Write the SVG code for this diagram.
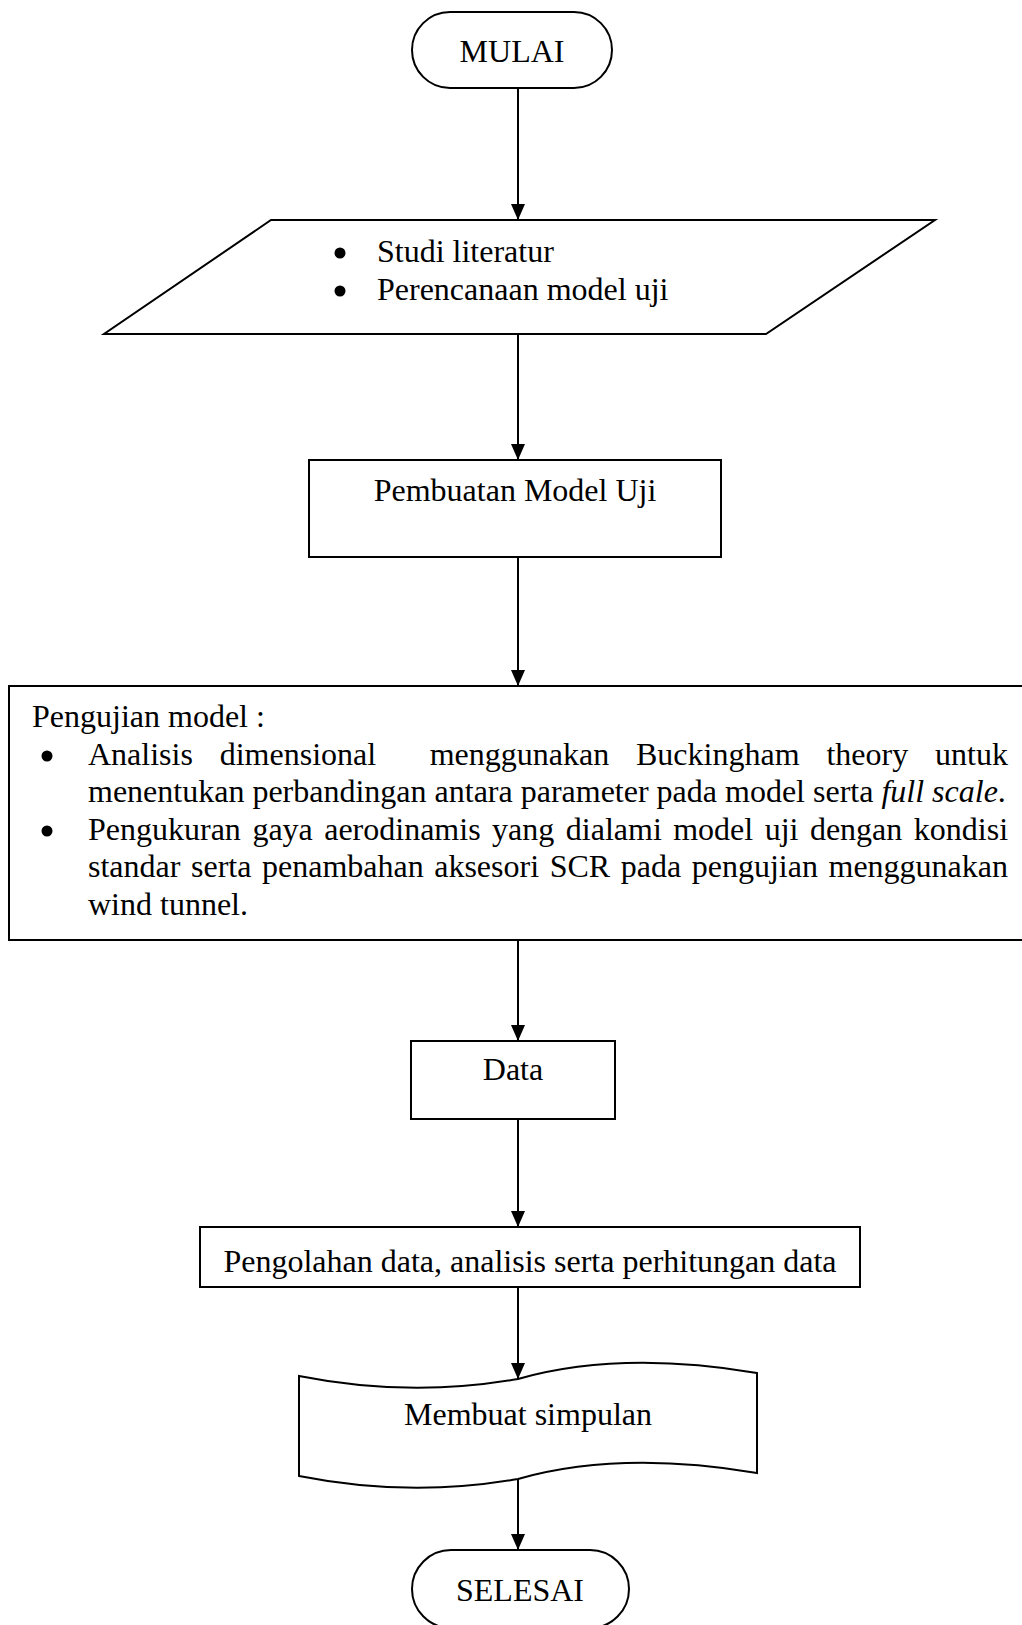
<svg xmlns="http://www.w3.org/2000/svg" width="1022" height="1625" viewBox="0 0 1022 1625">
<style>
.s{fill:#fff;stroke:#000;stroke-width:2}
.t{font-family:"Liberation Serif","Times New Roman",serif;font-size:32px;fill:#000}
.c{text-anchor:middle}
.e{text-anchor:end}
.b{fill:#000}
.l{stroke:#000;stroke-width:2;fill:none}
</style>
<defs>
<marker id="ah" markerUnits="userSpaceOnUse" markerWidth="16" markerHeight="18" refX="8" refY="16" orient="auto-start-reverse" viewBox="0 0 16 18">
<path d="M1,0 L15,0 L8,16 Z" fill="#000" transform="rotate(-90 8 8) translate(0 0)"/>
</marker>
<marker id="arr" markerUnits="userSpaceOnUse" markerWidth="16" markerHeight="16" refX="16" refY="7" orient="auto" viewBox="0 0 16 14">
<path d="M0,0 L16,7 L0,14 Z" fill="#000"/>
</marker>
</defs>
<rect width="1022" height="1625" fill="#fff"/>
<g id="connectors">
<line class="l" x1="518" y1="88" x2="518" y2="220" marker-end="url(#arr)"/>
<line class="l" x1="518" y1="334" x2="518" y2="460" marker-end="url(#arr)"/>
<line class="l" x1="518" y1="557" x2="518" y2="686" marker-end="url(#arr)"/>
<line class="l" x1="518" y1="940" x2="518" y2="1041" marker-end="url(#arr)"/>
<line class="l" x1="518" y1="1119" x2="518" y2="1227" marker-end="url(#arr)"/>
<line class="l" x1="518" y1="1287" x2="518" y2="1379" marker-end="url(#arr)"/>
<line class="l" x1="518" y1="1472" x2="518" y2="1550" marker-end="url(#arr)"/>
</g>
<g id="mulai">
<rect class="s" x="412" y="12" width="200" height="76" rx="38" ry="38"/>
<text class="t c" x="512" y="62">MULAI</text>
</g>
<g id="studi">
<polygon class="s" points="271,220 935,220 766,334 104,334"/>
<circle class="b" cx="340" cy="253" r="5.5"/>
<circle class="b" cx="340" cy="291" r="5.5"/>
<text class="t" x="377" y="262">Studi literatur</text>
<text class="t" x="377" y="300">Perencanaan model uji</text>
</g>
<g id="pembuatan">
<rect class="s" x="309" y="460" width="412" height="97"/>
<text class="t c" x="515" y="501">Pembuatan Model Uji</text>
</g>
<g id="pengujian">
<rect class="s" x="9" y="686" width="1030" height="254"/>
<text class="t" x="32" y="727">Pengujian model :</text>
<circle class="b" cx="47" cy="756" r="5.5"/>
<text class="t" y="765"><tspan x="88">Analisis</tspan><tspan x="219.7">dimensional</tspan><tspan x="429.7">menggunakan</tspan><tspan x="636">Buckingham</tspan><tspan x="826.4">theory</tspan><tspan x="935.1">untuk</tspan></text>
<text class="t" x="88" y="802">menentukan perbandingan antara parameter pada model serta <tspan font-style="italic">full scale</tspan>.</text>
<circle class="b" cx="47" cy="831" r="5.5"/>
<text class="t" y="840"><tspan x="88">Pengukuran</tspan><tspan x="252.4">gaya</tspan><tspan x="324.2">aerodinamis</tspan><tspan x="492.1">yang</tspan><tspan x="565.8">dialami</tspan><tspan x="673.2">model</tspan><tspan x="764.7">uji</tspan><tspan x="809.9">dengan</tspan><tspan x="913.8">kondisi</tspan></text>
<text class="t" y="877"><tspan x="88">standar</tspan><tspan x="191">serta</tspan><tspan x="262">penambahan</tspan><tspan x="434.2">aksesori</tspan><tspan x="549.7">SCR</tspan><tspan x="620.8">pada</tspan><tspan x="691.7">pengujian</tspan><tspan x="828.5">menggunakan</tspan></text>
<text class="t" x="88" y="915">wind tunnel.</text>
</g>
<g id="data">
<rect class="s" x="411" y="1041" width="204" height="78"/>
<text class="t c" x="513" y="1080">Data</text>
</g>
<g id="pengolahan">
<rect class="s" x="200" y="1227" width="660" height="60"/>
<text class="t c" x="530" y="1272">Pengolahan data, analisis serta perhitungan data</text>
</g>
<g id="simpulan">
<path class="s" d="M299,1376 Q410,1398 518,1379 Q620,1350 757,1373 L757,1473 Q620,1450 518,1479 Q410,1498 299,1476 Z"/>
<text class="t c" x="528" y="1425">Membuat simpulan</text>
</g>
<g id="selesai">
<rect class="s" x="412" y="1550" width="217" height="78" rx="39" ry="39"/>
<text class="t c" x="520" y="1601">SELESAI</text>
</g>
</svg>
